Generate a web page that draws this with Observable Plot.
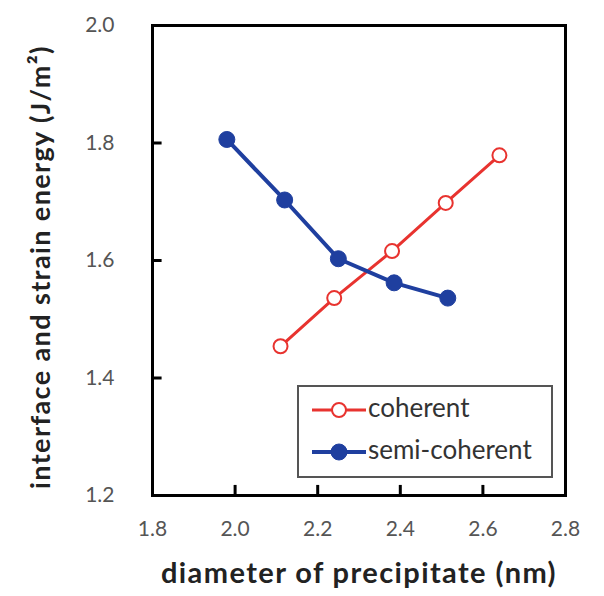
<!DOCTYPE html>
<html>
<head>
<meta charset="utf-8">
<script src="https://cdn.jsdelivr.net/npm/d3@7"></script>
<script src="https://cdn.jsdelivr.net/npm/@observablehq/plot@0.6"></script>
<style>
  html, body { margin: 0; padding: 0; background: #fff; }
  #chart svg { display: block; }
</style>
</head>
<body>
<div id="chart"></div>
<script>
// Data
const coherentX = [2.11, 2.24, 2.38, 2.51, 2.64];
const coherentY = [1.454, 1.536, 1.616, 1.698, 1.779];
const semiX = [1.98, 2.12, 2.25, 2.385, 2.515];
const semiY = [1.806, 1.703, 1.603, 1.562, 1.536];
const xTicks = [1.8, 2.0, 2.2, 2.4, 2.6, 2.8];
const yTicks = [1.2, 1.4, 1.6, 1.8, 2.0];
const seriesNames = ["coherent", "semi-coherent"];
const xLabel = "diameter of precipitate (nm)";
const yLabel = "interface and strain energy (J/m²)";

const red = "#e8332f";
const blue = "#1f3f9f";

const coherent = coherentX.map((x, i) => ({x, y: coherentY[i]}));
const semi = semiX.map((x, i) => ({x, y: semiY[i]}));
const xTickRows = xTicks.slice(1, -1).map(v => ({v}));
const yTickRows = yTicks.slice(1, -1).map(v => ({v}));

const W = 604, H = 596;
const mL = 152, mR = 39, mT = 25, mB = 101;
const font = "Lato, 'Open Sans', sans-serif";

const xDom = [1.8, 2.8], yDom = [1.2, 2.0];

const chart = Plot.plot({
  width: W,
  height: H,
  marginLeft: mL,
  marginRight: mR,
  marginTop: mT,
  marginBottom: mB,
  style: {fontFamily: font, background: "#fff"},
  x: {domain: xDom},
  y: {domain: yDom},
  marks: [
    Plot.axisX({ticks: xTicks, tickFormat: d3.format(".1f"), tickSize: 0, tickPadding: 26, fontSize: 21, fill: "#555", label: null}),
    Plot.axisY({ticks: yTicks, tickFormat: d3.format(".1f"), tickSize: 0, tickPadding: 38, fontSize: 21, fill: "#555", label: null}),
    Plot.link(xTickRows, {x1: "v", x2: "v", y1: () => 1.2, y2: () => 1.218, stroke: "black", strokeWidth: 3}),
    Plot.link(yTickRows, {y1: "v", y2: "v", x1: () => 1.8, x2: () => 1.822, stroke: "black", strokeWidth: 3}),
    Plot.frame({stroke: "black", strokeWidth: 3}),
    Plot.line(coherent, {x: "x", y: "y", stroke: red, strokeWidth: 3}),
    Plot.dot(coherent, {x: "x", y: "y", r: 7, fill: "white", stroke: red, strokeWidth: 2}),
    Plot.line(semi, {x: "x", y: "y", stroke: blue, strokeWidth: 4}),
    Plot.dot(semi, {x: "x", y: "y", r: 8, fill: blue, stroke: blue, strokeWidth: 1})
  ]
});

const svg = d3.select(chart);

// Axis titles
svg.append("text")
  .attr("x", 359).attr("y", 576)
  .attr("text-anchor", "middle").attr("dominant-baseline", "middle")
  .attr("font-family", font).attr("font-weight", "bold").attr("font-size", 29)
  .attr("letter-spacing", 1.4)
  .attr("fill", "#222")
  .text(xLabel);

svg.append("text")
  .attr("transform", "translate(43,267) rotate(-90)")
  .attr("text-anchor", "middle").attr("dominant-baseline", "middle")
  .attr("font-family", font).attr("font-weight", "bold").attr("font-size", 27)
  .attr("letter-spacing", 1.4)
  .attr("fill", "#222")
  .text(yLabel);

// Legend
const lg = svg.append("g");
lg.append("rect")
  .attr("x", 298).attr("y", 386).attr("width", 254).attr("height", 91)
  .attr("fill", "white").attr("stroke", "#555").attr("stroke-width", 2);
const entries = [
  {name: seriesNames[0], color: red, open: true, y: 410},
  {name: seriesNames[1], color: blue, open: false, y: 452}
];
entries.forEach(e => {
  lg.append("line").attr("x1", 312).attr("x2", 366).attr("y1", e.y).attr("y2", e.y)
    .attr("stroke", e.color).attr("stroke-width", e.open ? 3 : 4);
  lg.append("circle").attr("cx", 339).attr("cy", e.y).attr("r", e.open ? 7 : 8)
    .attr("fill", e.open ? "white" : e.color).attr("stroke", e.color).attr("stroke-width", e.open ? 2 : 1);
  lg.append("text").attr("x", 368).attr("y", e.y)
    .attr("text-anchor", "start").attr("dominant-baseline", "middle")
    .attr("font-family", font).attr("font-size", 26).attr("fill", "#333")
    .text(e.name);
});

document.getElementById("chart").appendChild(chart);
</script>
</body>
</html>
